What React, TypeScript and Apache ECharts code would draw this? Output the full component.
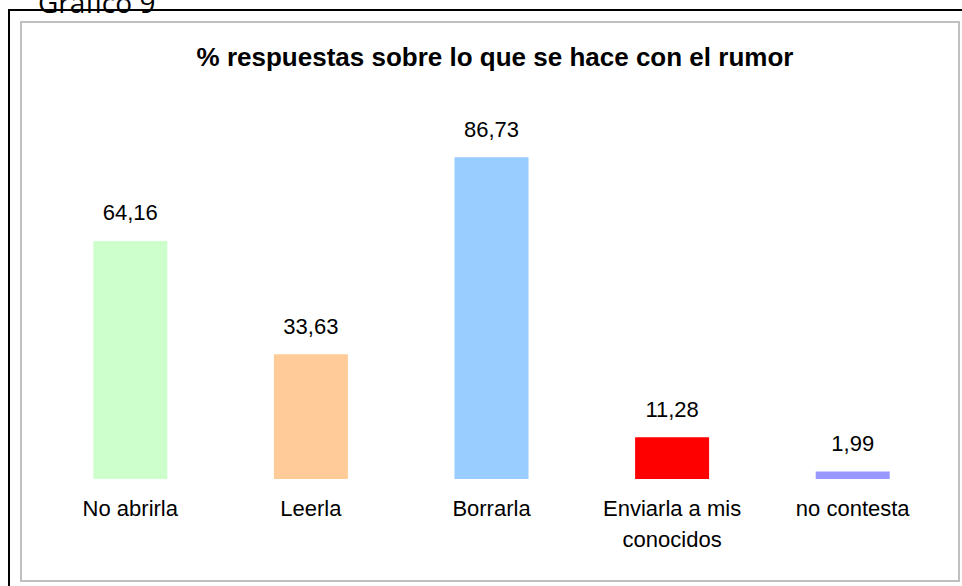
import React, { useEffect, useRef } from "react";
import * as echarts from "echarts";

const categories = ["No abrirla", "Leerla", "Borrarla", "Enviarla a mis\nconocidos", "no contesta"];
const values = [64.16, 33.63, 86.73, 11.28, 1.99];
const barColors = ["#CCFFCC", "#FFCC99", "#99CCFF", "#FF0000", "#9999FF"];
const titleText = "% respuestas sobre lo que se hace con el rumor";
const captionText = "Gráfico 9";

export default function App() {
  const ref = useRef<HTMLDivElement>(null);
  useEffect(() => {
    if (!ref.current) return;
    const chart = echarts.init(ref.current, null, { renderer: "svg" });
    chart.setOption({
      animation: false,
      backgroundColor: "#ffffff",
      title: {
        text: titleText,
        left: 490,
        top: 39,
        textAlign: "center",
        textStyle: {
          fontFamily: "Liberation Sans, Arial, sans-serif",
          fontSize: 26,
          fontWeight: "bold",
          color: "#000000",
        },
      },
      graphic: [
        {
          type: "rect",
          shape: { x: 9, y: 10, width: 970, height: 600 },
          style: { fill: "none", stroke: "#000000", lineWidth: 2 },
          silent: true,
        },
        {
          type: "rect",
          shape: { x: 21, y: 22, width: 938, height: 559 },
          style: { fill: "none", stroke: "#c0c0c0", lineWidth: 2 },
          silent: true,
        },
        {
          type: "text",
          x: 38,
          y: 16,
          style: {
            text: captionText,
            fontFamily: "Open Sans, sans-serif",
            fontSize: 28,
            fill: "#000000",
            verticalAlign: "bottom",
          },
          silent: true,
        },
      ],
      grid: { left: 40, right: 19, top: 108, bottom: 107 },
      xAxis: {
        type: "category",
        data: categories,
        axisLine: { show: false },
        axisTick: { show: false },
        axisLabel: {
          margin: 14,
          fontFamily: "Liberation Sans, Arial, sans-serif",
          fontSize: 22,
          lineHeight: 31,
          color: "#000000",
          interval: 0,
        },
      },
      yAxis: {
        type: "value",
        min: 0,
        max: 100,
        show: false,
        splitLine: { show: false },
      },
      series: [
        {
          type: "bar",
          barWidth: 74,
          data: values.map((v, i) => ({ value: v, itemStyle: { color: barColors[i] } })),
          label: {
            show: true,
            position: "top",
            distance: 17,
            fontFamily: "Liberation Sans, Arial, sans-serif",
            fontSize: 22,
            color: "#000000",
            formatter: (p: any) => p.value.toFixed(2).replace(".", ","),
          },
        },
      ],
    });
    return () => chart.dispose();
  }, []);
  return (
    <div
      ref={ref}
      style={{ position: "fixed", left: 0, top: 0, width: 962, height: 586 }}
    />
  );
}
